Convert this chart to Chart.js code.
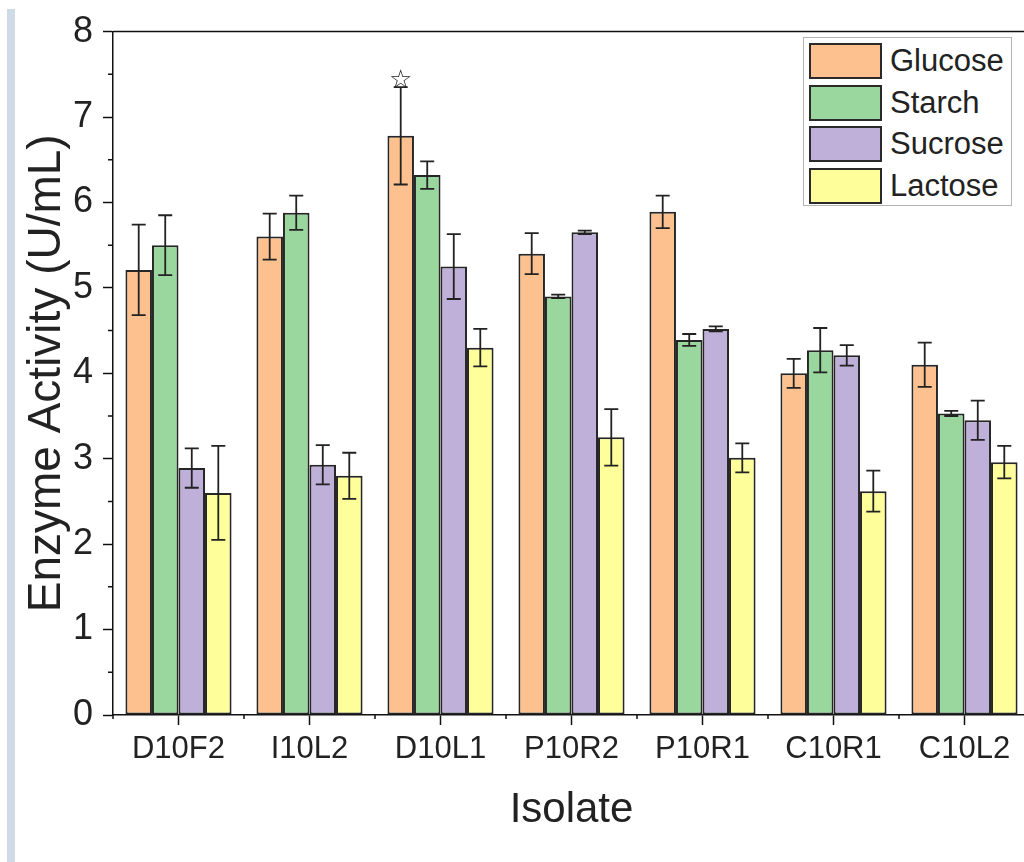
<!DOCTYPE html>
<html>
<head>
<meta charset="utf-8">
<script src="https://cdn.jsdelivr.net/npm/chart.js@4.4.1/dist/chart.umd.min.js"></script>
<style>
  html, body { margin:0; padding:0; background:#ffffff; overflow:hidden; width:1024px; height:862px; }
  #strip { position:absolute; left:7px; top:9px; width:8px; height:853px; background:#cfdae7; }
  #wrap { position:absolute; left:0; top:0; width:1040px; height:862px; }
  #legend { position:absolute; left:803px; top:37px; width:209px; height:169px; border:1px solid #b4b4b4; background:#fff; box-sizing:border-box; }
  .sw { position:absolute; left:5px; width:73px; height:36px; border:2px solid #2a2a2a; box-sizing:border-box; }
  .lt { position:absolute; left:86px; height:36px; line-height:36px; font-family:"Liberation Sans", Arial, sans-serif; font-size:31px; color:#222; white-space:nowrap; }
</style>
</head>
<body>
<div id="strip"></div>
<div id="wrap"><canvas id="c" width="1040" height="862"></canvas></div>
<div id="legend"></div>
<script>
// ---- data ----
const categories = ['D10F2', 'I10L2', 'D10L1', 'P10R2', 'P10R1', 'C10R1', 'C10L2'];
const seriesNames = ['Glucose', 'Starch', 'Sucrose', 'Lactose'];
const glucose = [5.21, 5.60, 6.78, 5.40, 5.89, 4.00, 4.10];
const starch  = [5.50, 5.88, 6.32, 4.90, 4.39, 4.27, 3.53];
const sucrose = [2.89, 2.93, 5.25, 5.65, 4.52, 4.21, 3.45];
const lactose = [2.60, 2.80, 4.30, 3.25, 3.01, 2.62, 2.96];
const glucoseErr = [0.53, 0.27, 0.57, 0.24, 0.19, 0.17, 0.26];
const starchErr  = [0.35, 0.20, 0.16, 0.02, 0.07, 0.26, 0.03];
const sucroseErr = [0.23, 0.23, 0.38, 0.02, 0.03, 0.12, 0.23];
const lactoseErr = [0.55, 0.27, 0.22, 0.33, 0.17, 0.24, 0.19];
const glucoseMarks = ['', '', '\u2606', '', '', '', ''];
const yTickLabels = ['0', '1', '2', '3', '4', '5', '6', '7', '8'];
const colors = ['#fdc18f', '#99d79e', '#beb0d9', '#fefe9b'];

const values = [glucose, starch, sucrose, lactose];
const errors = [glucoseErr, starchErr, sucroseErr, lactoseErr];
const marks  = [glucoseMarks, null, null, null];

const FONT = '"Liberation Sans", Arial, sans-serif';
const INK = '#222222';

const errorBarPlugin = {
  id: 'errorBars',
  afterDatasetsDraw(chart) {
    const ctx = chart.ctx;
    const y = chart.scales.y;
    ctx.save();
    chart.data.datasets.forEach((ds, di) => {
      const meta = chart.getDatasetMeta(di);
      meta.data.forEach((bar, i) => {
        const v = ds.data[i], e = errors[di][i];
        const yt = y.getPixelForValue(v + e), yb = y.getPixelForValue(v - e);
        ctx.strokeStyle = INK;
        ctx.lineWidth = 1.8;
        ctx.beginPath();
        ctx.moveTo(bar.x, yt); ctx.lineTo(bar.x, yb);
        ctx.moveTo(bar.x - 7, yt); ctx.lineTo(bar.x + 7, yt);
        ctx.moveTo(bar.x - 7, yb); ctx.lineTo(bar.x + 7, yb);
        ctx.stroke();
        const m = marks[di] && marks[di][i];
        if (m) {
          ctx.fillStyle = INK;
          ctx.font = 'bold 26px "DejaVu Sans", sans-serif';
          ctx.textAlign = 'center';
          ctx.textBaseline = 'middle';
          ctx.fillText(m, bar.x, yt - 6);
        }
      });
    });
    ctx.restore();
  }
};

const framePlugin = {
  id: 'frame',
  afterDraw(chart) {
    const ctx = chart.ctx;
    const {left, right, top, bottom} = chart.chartArea;
    const x = chart.scales.x, y = chart.scales.y;
    ctx.save();
    ctx.strokeStyle = '#111';
    ctx.lineWidth = 1.5;
    ctx.beginPath();
    ctx.moveTo(left, top); ctx.lineTo(right + 5, top);
    for (let k = 0; k < yTickLabels.length - 1; k++) {
      const py = y.getPixelForValue(k + 0.5);
      ctx.moveTo(left - 5, py); ctx.lineTo(left, py);
    }
    for (let i = -1; i < categories.length; i++) {
      const px = (x.getPixelForValue(i) + x.getPixelForValue(i + 1)) / 2;
      ctx.moveTo(px, bottom); ctx.lineTo(px, bottom + 4);
    }
    ctx.stroke();
    ctx.restore();
  }
};

new Chart(document.getElementById('c'), {
  type: 'bar',
  data: {
    labels: categories,
    datasets: seriesNames.map((n, i) => ({
      label: n,
      data: values[i],
      backgroundColor: colors[i],
      borderColor: '#262626',
      borderWidth: 2,
      borderSkipped: false,
      categoryPercentage: 0.81,
      barPercentage: 1.0
    }))
  },
  options: {
    responsive: false,
    animation: false,
    devicePixelRatio: 1,
    layout: { padding: { top: 27, right: 10, left: 0, bottom: 0 } },
    plugins: { legend: { display: false }, tooltip: { enabled: false } },
    scales: {
      x: {
        offset: true,
        grid: { display: true, offset: false, drawOnChartArea: false, drawTicks: true, tickLength: 10, tickColor: '#111', tickWidth: 1.5 },
        border: { display: true, color: '#111', width: 1.5 },
        ticks: { color: INK, font: { family: FONT, size: 31 }, padding: 6, maxRotation: 0 },
        title: { display: true, text: 'Isolate', color: INK, font: { family: FONT, size: 42 }, padding: { top: 0, bottom: 26 } },
        afterFit(s) { s.height = 147; }
      },
      y: {
        min: 0, max: 8,
        grid: { display: true, drawOnChartArea: false, drawTicks: true, tickLength: 10, tickColor: '#111', tickWidth: 1.5 },
        border: { display: true, color: '#111', width: 1.5 },
        ticks: { stepSize: 1, color: INK, font: { family: FONT, size: 36 }, padding: 10,
                 callback: (v) => yTickLabels[v] },
        title: { display: true, text: 'Enzyme Activity (U/mL)', color: INK, font: { family: FONT, size: 46 }, padding: { top: 20, bottom: 0 } },
        afterFit(s) { s.width = 113; }
      }
    }
  },
  plugins: [errorBarPlugin, framePlugin]
});

const lg = document.getElementById('legend');
seriesNames.forEach((n, i) => {
  const top = 5 + i * 41.5;
  const sw = document.createElement('div');
  sw.className = 'sw'; sw.style.top = top + 'px'; sw.style.background = colors[i];
  const t = document.createElement('div');
  t.className = 'lt'; t.style.top = top + 'px'; t.textContent = n;
  lg.appendChild(sw); lg.appendChild(t);
});
</script>
</body>
</html>
